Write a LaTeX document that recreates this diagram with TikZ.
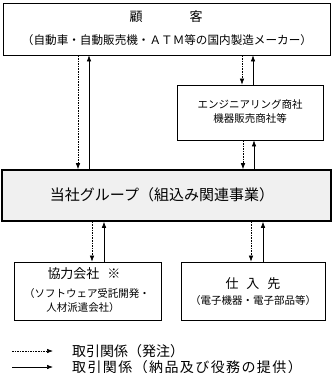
\documentclass[tikz,border=0pt]{standalone}
\usepackage{fontspec}
\setmainfont{Noto Sans CJK JP}
\usetikzlibrary{arrows.meta}
\newcommand{\fs}[1]{\fontsize{#1}{#1}\selectfont}

\begin{document}
\begin{tikzpicture}[x=1pt, y=-1pt, >={Latex[length=6pt,width=4.5pt]},
    box/.style={draw, line width=0.8pt, inner sep=0pt},
    order/.style={->, line width=0.6pt, dash pattern=on 1.6pt off 1pt},
    supply/.style={->, line width=0.6pt}]
    \useasboundingbox (0,0) rectangle (333,373);

    % Boxes
    \node[box, minimum width=327pt, minimum height=52pt] (cust) at (166.5,29) {};
    \node[box, minimum width=146pt, minimum height=55pt] (trade) at (250,112.5) {};
    \node[box, line width=1.6pt, fill=black!6, minimum width=329pt, minimum height=51pt] (grp) at (166.5,195.5) {};
    \node[box, minimum width=147pt, minimum height=58pt] (partner) at (87.5,291) {};
    \node[box, minimum width=144pt, minimum height=58pt] (vendor) at (253,291) {};

    % Texts
    \node[font=\fs{13}] (custA) at (166,17) {顧\hspace{47pt}客};
    \node[font=\fs{11.6}] (custB) at (167,40) {（自動車・自動販売機・ＡＴＭ等の国内製造メーカー）};
    \node[font=\fs{10.5}] (tradeA) at (250,105) {エンジニアリング商社};
    \node[font=\fs{10.5}] (tradeB) at (250,118) {機器販売商社等};
    \node[font=\fs{15}] (grpA) at (162,195) {当社グループ（組込み関連事業）};
    \node[font=\fs{13}] (partnerA) at (84,274) {協力会社\hspace{8pt}※};
    \node[font=\fs{10.5}] (partnerB) at (87,294) {（ソフトウェア受託開発・};
    \node[font=\fs{10.5}] (partnerC) at (83,308) {人材派遣会社）};
    \node[font=\fs{13}] (vendorA) at (253,284) {仕\hspace{8pt}入\hspace{8pt}先};
    \node[font=\fs{10.5}] (vendorB) at (253,301) {（電子機器・電子部品等）};

    % Customer <-> group
    \draw[order] (cust.south -| 78,0) -- (grp.north -| 78,0);
    \draw[supply] (grp.north -| 89,0) -- (cust.south -| 89,0);

    % Customer <-> trading companies <-> group
    \draw[order] (cust.south -| 242,0) -- (trade.north -| 242,0);
    \draw[supply] (trade.north -| 253,0) -- (cust.south -| 253,0);
    \draw[order] (trade.south -| 243,0) -- (grp.north -| 243,0);
    \draw[supply] (grp.north -| 254,0) -- (trade.south -| 254,0);

    % Group <-> partners, vendors
    \draw[order] (grp.south -| 92,0) -- (partner.north -| 92,0);
    \draw[supply] (partner.north -| 104,0) -- (grp.south -| 104,0);
    \draw[order] (grp.south -| 251,0) -- (vendor.north -| 251,0);
    \draw[supply] (vendor.north -| 263,0) -- (grp.south -| 263,0);

    % Legend
    \coordinate (lgA) at (12,351);
    \coordinate (lgB) at (12,367);
    \node[anchor=west, inner sep=0pt, font=\fs{14}] (lgtextA) at (72,351) {取引関係（発注）};
    \node[anchor=west, inner sep=0pt, font=\fs{14}\addfontfeature{LetterSpace=10}] (lgtextB) at (72,367) {取引関係（納品及び役務の提供）};
    \draw[order] (lgA) -- ++(41,0);
    \draw[supply] (lgB) -- ++(41,0);
\end{tikzpicture}
\end{document}
